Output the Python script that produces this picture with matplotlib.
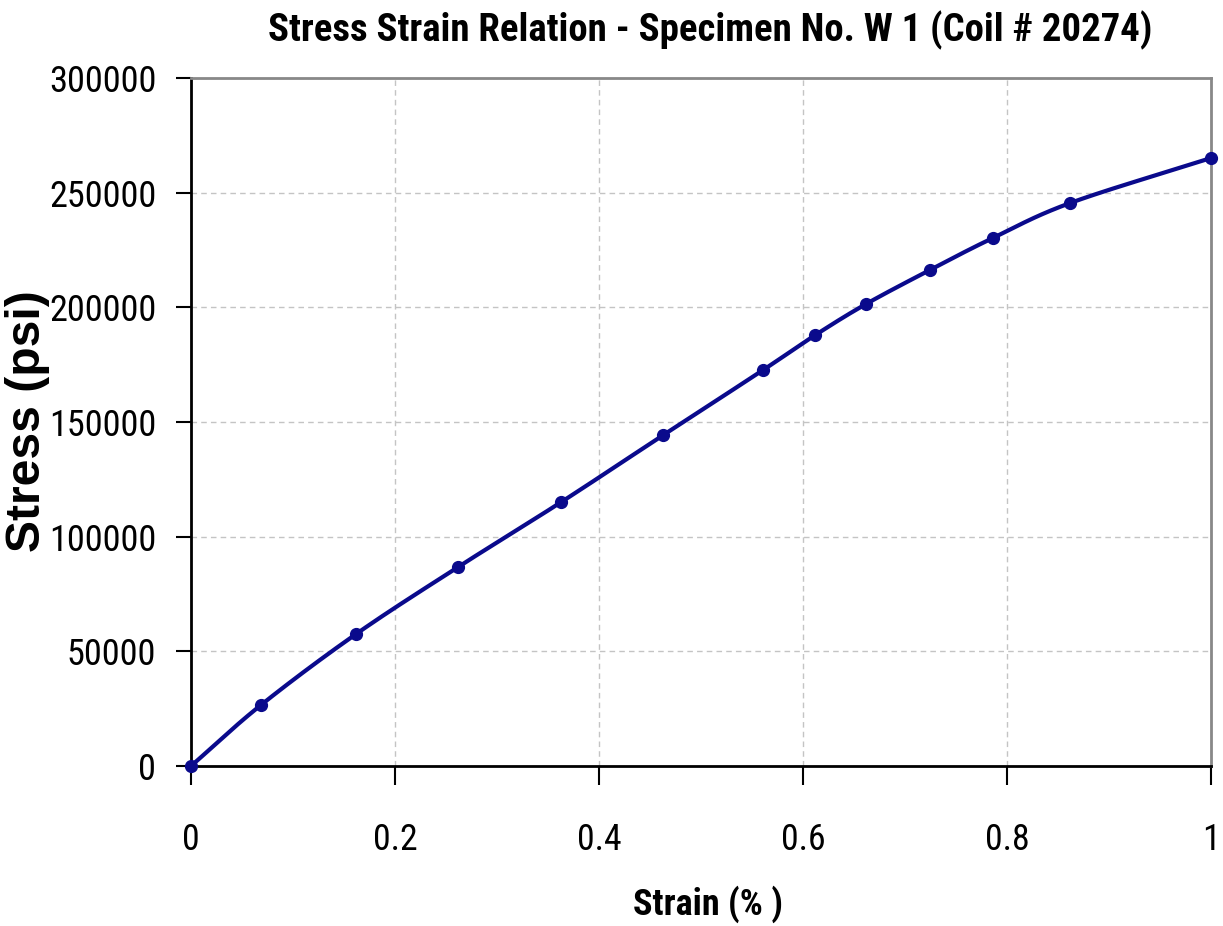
import numpy as np
import matplotlib
matplotlib.use("Agg")
import matplotlib.pyplot as plt
from matplotlib import font_manager

# ---- data ----
strain = [0.0, 0.0686, 0.162, 0.262, 0.363, 0.463, 0.561, 0.612, 0.662, 0.7245, 0.786, 0.862, 1.0]
stress = [0, 26600, 57600, 86800, 115100, 144300, 172700, 187900, 201500, 216300, 230200, 245500, 265100]
x_ticks = [0, 0.2, 0.4, 0.6, 0.8, 1]
x_tick_labels = ["0", "0.2", "0.4", "0.6", "0.8", "1"]
y_ticks = [0, 50000, 100000, 150000, 200000, 250000, 300000]
y_tick_labels = ["0", "50000", "100000", "150000", "200000", "250000", "300000"]
title = "Stress Strain Relation - Specimen No. W 1 (Coil # 20274)"
xlabel = "Strain (% )"
ylabel = "Stress (psi)"

names = {f.name for f in font_manager.fontManager.ttflist}
narrow = [n for n in ["Liberation Sans Narrow", "Roboto Condensed", "Open Sans Condensed"] if n in names]
fam_narrow = narrow + ["Liberation Sans", "DejaVu Sans"]
fam = ["Liberation Sans", "DejaVu Sans"]


def smooth(xs, ys, n=30):
    # Catmull-Rom smoothing of the polyline for display (like a spreadsheet smoothed line)
    P = np.column_stack([xs, ys]).astype(float)
    P = np.vstack([2 * P[0] - P[1], P, 2 * P[-1] - P[-2]])
    out = []
    t = np.linspace(0, 1, n, endpoint=False)[:, None]
    for i in range(1, len(P) - 2):
        p0, p1, p2, p3 = P[i - 1], P[i], P[i + 1], P[i + 2]
        seg = 0.5 * ((2 * p1) + (-p0 + p2) * t + (2 * p0 - 5 * p1 + 4 * p2 - p3) * t ** 2
                     + (-p0 + 3 * p1 - 3 * p2 + p3) * t ** 3)
        out.append(seg)
    out.append(P[-2][None, :])
    S = np.vstack(out)
    return S[:, 0], S[:, 1]


W, H = 1223, 926
fig = plt.figure(figsize=(W / 100, H / 100), dpi=100)
ax = fig.add_axes([191 / W, 1 - 766 / H, (1211 - 191) / W, (766 - 78) / H])

sx, sy = smooth(strain, stress)
ax.plot(sx, sy, color="#0A0A8C", lw=3.0, zorder=3, clip_on=False, solid_capstyle="round")
ax.plot(strain, stress, linestyle="none", marker="o", ms=8.5, color="#0A0A8C", zorder=4, clip_on=False)

ax.set_xlim(0, 1)
ax.set_ylim(0, 300000)
ax.set_xticks(x_ticks)
ax.set_xticklabels(x_tick_labels, fontsize=24, family=fam_narrow)
ax.set_yticks(y_ticks)
ax.set_yticklabels(y_tick_labels, fontsize=24, family=fam_narrow)
ax.tick_params(axis="x", length=14, width=1.5, pad=26, direction="out")
ax.tick_params(axis="y", length=11, width=1.5, pad=14, direction="out")
ax.grid(True, color="#c4c4c4", linestyle=(0, (4, 3)), linewidth=1)
ax.set_axisbelow(True)
for s in ["left", "bottom"]:
    ax.spines[s].set_color("black")
    ax.spines[s].set_linewidth(2)
for s in ["top", "right"]:
    ax.spines[s].set_color("#888888")
    ax.spines[s].set_linewidth(2)

t = fig.text(710 / W, 1 - 30 / H, title, ha="center", va="center", fontsize=26,
             fontweight="bold", family=fam_narrow)
xl = fig.text(708 / W, 1 - 904 / H, xlabel, ha="center", va="center", fontsize=26,
              fontweight="bold", family=fam_narrow)
yl = fig.text(28 / W, 1 - 421 / H, ylabel, ha="center", va="center", fontsize=30,
              fontweight="bold", rotation=90, family=fam)

# fit text extents to target pixel sizes
fig.canvas.draw()
r = fig.canvas.get_renderer()
for txt, target, horiz in [(t, 884, True), (xl, 150, True), (yl, 262, False)]:
    bb = txt.get_window_extent(r)
    cur = bb.width if horiz else bb.height
    txt.set_fontsize(txt.get_fontsize() * target / cur)

# tick label size: "300000" ~108 px wide, "0.2" ~45 px wide
for lab, target in [(ax.get_yticklabels()[-1], 108), (ax.get_xticklabels()[1], 45)]:
    bb = lab.get_window_extent(r)
    size = lab.get_fontsize() * target / bb.width
    axis_labels = ax.get_yticklabels() if lab in ax.get_yticklabels() else ax.get_xticklabels()
    for l in axis_labels:
        l.set_fontsize(size)

fig.savefig("out.png", dpi=100)
